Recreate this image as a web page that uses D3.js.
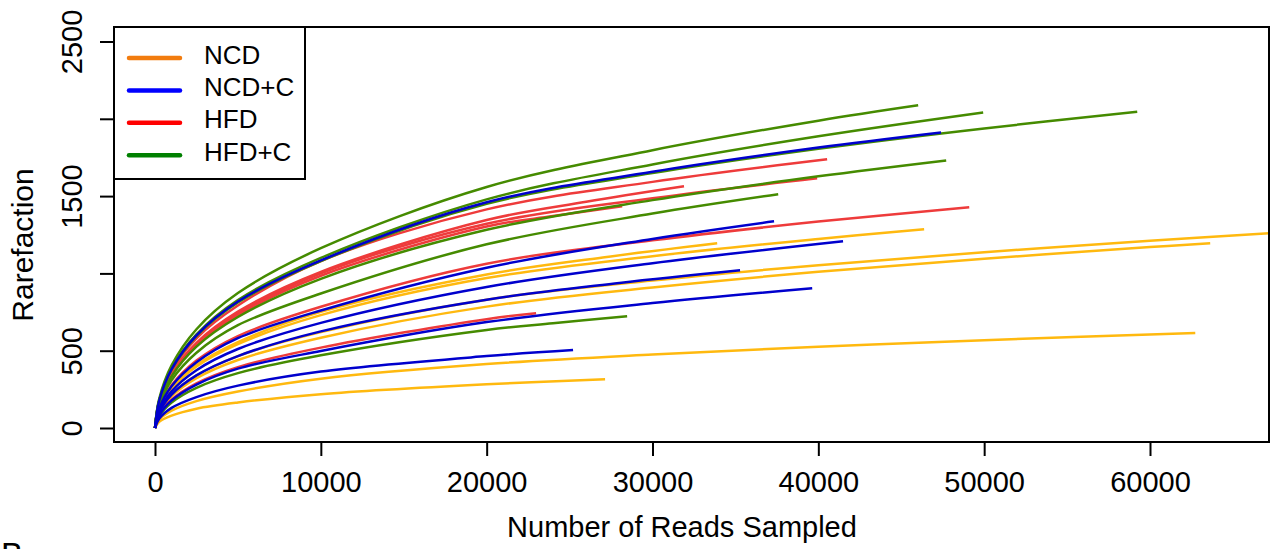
<!DOCTYPE html>
<html>
<head>
<meta charset="utf-8">
<script src="https://cdn.jsdelivr.net/npm/d3@7"></script>
<style>
  body { margin: 0; background: #fff; }
  text { font-family: "Liberation Sans", Arial, Helvetica, sans-serif; fill: #000; }
</style>
</head>
<body>
<div class="chart"></div>
<script>
const width = 1270
const height = 549

const groups = ["NCD", "NCD+C", "HFD", "HFD+C"]
const legendColors = ["#f27c0f", "#0000ff", "#ff0000", "#008000"]
const curveColors = ["#ffb90f", "#0000cd", "#ee3b3b", "#458b00"]

const xTicks = [0, 10000, 20000, 30000, 40000, 50000, 60000]
const yTicks = [0, 500, 1000, 1500, 2000, 2500]
const yTickLabels = ["0", "500", "", "1500", "", "2500"]

// each curve: [reads sampled, rarefied richness]
const ncd = [
    [[0,0],[250,100],[1000,216],[2500,340],[5000,465],[10000,620],[20000,830],[30000,954],[40000,1053],[50000,1137],[60000,1211],[67400,1262]],
    [[0,0],[250,94],[1000,204],[2500,322],[5000,440],[10000,584],[20000,785],[30000,909],[40000,1010],[50000,1095],[60000,1170],[63630,1195]],
    [[0,0],[250,116],[1000,252],[2500,398],[5000,543],[10000,730],[20000,970],[30000,1111],[40000,1223],[46380,1286]],
    [[0,0],[250,54],[1000,112],[2500,174],[5000,236],[10000,319],[20000,414],[30000,476],[40000,526],[50000,568],[62730,614]],
    [[0,0],[250,40],[1000,80],[2500,125],[5000,165],[10000,219],[20000,283],[27140,316]],
    [[0,0],[250,119],[1000,258],[2500,407],[5000,556],[10000,751],[20000,993],[27000,1103],[33900,1195]]
]

const ncdC = [
    [[0,0],[250,175],[1000,380],[2500,599],[5000,818],[10000,1084],[20000,1460],[30000,1657],[40000,1814],[47400,1912]],
    [[0,0],[250,124],[1000,270],[2500,425],[5000,581],[10000,760],[20000,1037],[30000,1223],[37330,1337]],
    [[0,0],[250,109],[1000,237],[2500,374],[5000,511],[10000,680],[20000,912],[30000,1066],[41490,1208]],
    [[0,0],[250,100],[1000,216],[2500,340],[5000,465],[10000,625],[20000,830],[28000,938],[35280,1020]],
    [[0,0],[250,82],[1000,178],[2500,281],[5000,384],[10000,498],[20000,685],[30000,808],[39630,904]],
    [[0,0],[250,60],[1000,130],[2500,200],[5000,274],[10000,365],[20000,465],[25210,504]]
]

const hfd = [
    [[0,0],[250,170],[1000,368],[2500,580],[5000,792],[10000,1080],[20000,1414],[30000,1592],[40530,1738]],
    [[0,0],[250,159],[1000,343],[2500,542],[5000,740],[10000,1000],[20000,1321],[30000,1486],[39930,1615]],
    [[0,0],[250,161],[1000,350],[2500,551],[5000,753],[10000,1010],[20000,1345],[26000,1463],[31900,1563]],
    [[0,0],[250,156],[1000,339],[2500,534],[5000,730],[10000,985],[20000,1303],[24000,1371],[28170,1434]],
    [[0,0],[250,128],[1000,276],[2500,436],[5000,595],[10000,784],[20000,1063],[30000,1214],[40000,1335],[49100,1428]],
    [[0,0],[250,84],[1000,183],[2500,289],[5000,394],[10000,520],[20000,704],[22980,743]]
]

const hfdC = [
    [[0,0],[250,187],[1000,405],[2500,639],[5000,873],[10000,1163],[20000,1559],[30000,1797],[40000,1988],[46020,2087]],
    [[0,0],[250,177],[1000,385],[2500,606],[5000,828],[10000,1100],[20000,1479],[30000,1705],[40000,1887],[49940,2041]],
    [[0,0],[250,174],[1000,377],[2500,595],[5000,812],[10000,1080],[20000,1450],[30000,1649],[40000,1806],[50000,1938],[59230,2045]],
    [[0,0],[250,154],[1000,333],[2500,526],[5000,718],[10000,965],[20000,1282],[30000,1474],[40000,1628],[47710,1731]],
    [[0,0],[250,143],[1000,309],[2500,487],[5000,665],[10000,870],[20000,1188],[30000,1387],[37580,1512]],
    [[0,0],[250,76],[1000,165],[2500,260],[5000,355],[10000,470],[20000,634],[24000,678],[28470,723]]
]

const frame = { left: 114, right: 1269, top: 27, bottom: 442 }

const svg = d3.select(".chart")
    .append("svg")
    .attr("width", width)
    .attr("height", height)

const xScale = d3.scaleLinear()
    .domain([0, 60000])
    .range([155, 1150])

const yScale = d3.scaleLinear()
    .domain([0, 2500])
    .range([428, 41.5])

svg.append("clipPath")
    .attr("id", "plot-clip")
  .append("rect")
    .attr("x", frame.left)
    .attr("y", frame.top)
    .attr("width", frame.right - frame.left)
    .attr("height", frame.bottom - frame.top)

const line = d3.line()
    .x(d => xScale(d[0]))
    .y(d => yScale(d[1]))
    .curve(d3.curveCatmullRom.alpha(0.5))

// draw order: NCD, HFD, HFD+C, NCD+C
const drawOrder = [
    {curves: ncd, color: curveColors[0]},
    {curves: hfd, color: curveColors[2]},
    {curves: hfdC, color: curveColors[3]},
    {curves: ncdC, color: curveColors[1]}
]

const curvesG = svg.append("g").attr("clip-path", "url(#plot-clip)")

drawOrder.forEach(grp => {
    curvesG.selectAll(null)
        .data(grp.curves)
        .enter().append("path")
            .attr("d", line)
            .attr("fill", "none")
            .attr("stroke", grp.color)
            .attr("stroke-width", 2.5)
            .attr("stroke-linejoin", "round")
})

//Axes
const xAxis = svg.append("g")
    .attr("transform", `translate(0, ${frame.bottom})`)
    .call(d3.axisBottom(xScale).tickValues(xTicks).tickSize(14).tickFormat(d3.format("d")))

const yAxis = svg.append("g")
    .attr("transform", `translate(${frame.left}, 0)`)
    .call(d3.axisLeft(yScale).tickValues(yTicks).tickSize(14).tickFormat((d, i) => yTickLabels[i]))

svg.selectAll("path.domain").remove()
svg.selectAll(".tick line").attr("stroke", "#000").attr("stroke-width", 2)

xAxis.selectAll(".tick text")
    .attr("y", 50)
    .attr("dy", 0)
    .style("font-size", "29px")

yAxis.selectAll(".tick text")
    .attr("x", 0)
    .attr("y", 0)
    .attr("dy", 0)
    .attr("text-anchor", "middle")
    .attr("transform", "translate(-32, 0) rotate(-90)")
    .style("font-size", "29px")

svg.append("rect")
    .attr("x", frame.left)
    .attr("y", frame.top)
    .attr("width", frame.right - frame.left)
    .attr("height", frame.bottom - frame.top)
    .attr("fill", "none")
    .attr("stroke", "#000")
    .attr("stroke-width", 2)

//Legend
const legend = svg.append("g")

legend.append("rect")
    .attr("x", frame.left)
    .attr("y", frame.top)
    .attr("width", 191)
    .attr("height", 152)
    .attr("fill", "#fff")
    .attr("stroke", "#000")
    .attr("stroke-width", 2)

const rows = legend.selectAll("g.row")
    .data(groups)
    .enter().append("g")
        .attr("class", "row")
        .attr("transform", (d, i) => `translate(0, ${58 + i * 32.4})`)

rows.append("line")
    .attr("x1", 129)
    .attr("x2", 180)
    .attr("stroke", (d, i) => legendColors[i])
    .attr("stroke-width", 4.5)
    .attr("stroke-linecap", "round")

rows.append("text")
    .attr("x", 204)
    .attr("y", 5.5)
    .text(d => d)
    .style("font-size", "26px")

//Titles
svg.append("text")
    .attr("x", 682)
    .attr("y", 537)
    .attr("text-anchor", "middle")
    .style("font-size", "29px")
    .text("Number of Reads Sampled")

svg.append("text")
    .attr("transform", "translate(33, 245) rotate(-90)")
    .attr("text-anchor", "middle")
    .style("font-size", "30px")
    .text("Rarefaction")

svg.append("text")
    .attr("x", 1)
    .attr("y", 566)
    .style("font-size", "33px")
    .text("B")
</script>
</body>
</html>
